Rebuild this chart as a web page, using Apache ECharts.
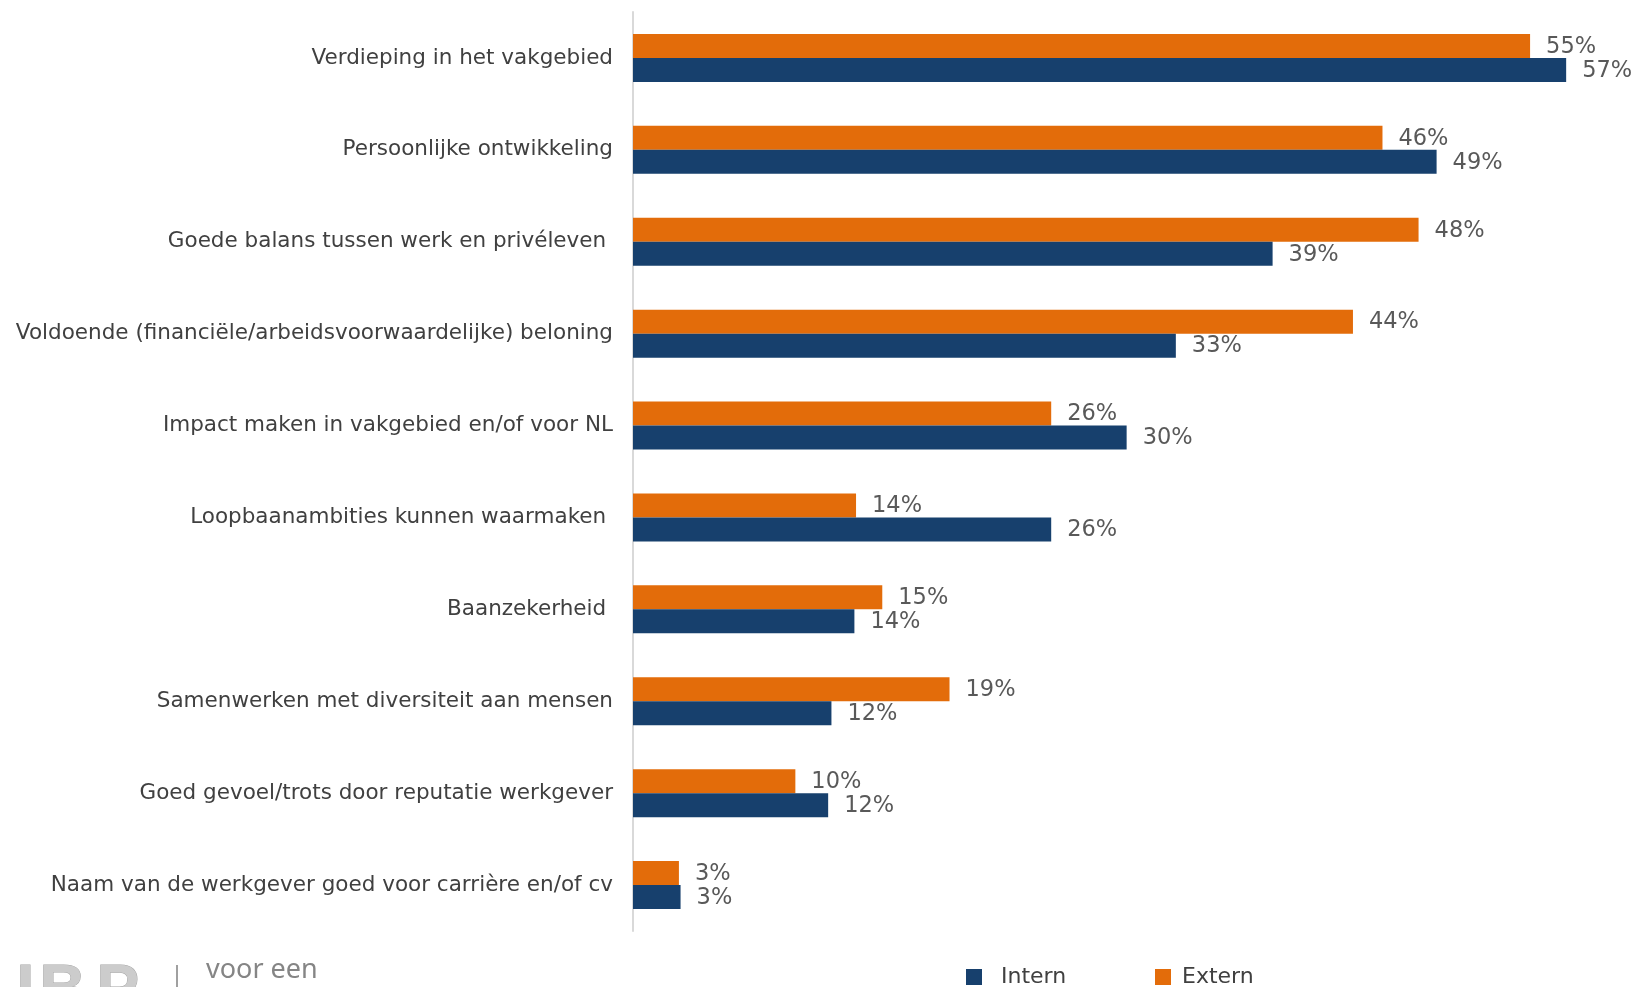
<!DOCTYPE html>
<html>
<head>
<meta charset="utf-8">
<script src="https://cdn.jsdelivr.net/npm/echarts@6/dist/echarts.min.js"></script>
<style>
html,body{margin:0;padding:0;background:#fff;}
#chart{width:1637px;height:987px;}
</style>
</head>
<body>
<div id="chart"></div>
<script>
const categories = [
  'Verdieping in het vakgebied',
  'Persoonlijke ontwikkeling',
  'Goede balans tussen werk en privéleven ',
  'Voldoende (financiële/arbeidsvoorwaardelijke) beloning',
  'Impact maken in vakgebied en/of voor NL',
  'Loopbaanambities kunnen waarmaken ',
  'Baanzekerheid ',
  'Samenwerken met diversiteit aan mensen',
  'Goed gevoel/trots door reputatie werkgever',
  'Naam van de werkgever goed voor carrière en/of cv'
];
const externValues = [54.7, 45.7, 47.9, 43.9, 25.5, 13.6, 15.2, 19.3, 9.9, 2.8];
const internValues = [56.9, 49.0, 39.0, 33.1, 30.1, 25.5, 13.5, 12.1, 11.9, 2.9];
const seriesNames = ['Extern', 'Intern'];

const FONT = '"DejaVu Sans"';
const chart = echarts.init(document.getElementById('chart'), null, {renderer: 'canvas'});
const labelCfg = {
  show: true,
  position: 'right',
  distance: 16,
  offset: [0, 1],
  color: '#595959',
  fontFamily: FONT,
  fontSize: 22.5,
  formatter: p => Math.round(p.value) + '%'
};
chart.setOption({
  animation: false,
  backgroundColor: '#ffffff',
  grid: {left: 633, top: 12, width: 984, height: 919, containLabel: false},
  xAxis: {type: 'value', min: 0, max: 60, show: false},
  yAxis: {
    type: 'category',
    data: categories,
    inverse: true,
    axisLine: {show: true, lineStyle: {color: '#d9d9d9', width: 2}},
    axisTick: {show: false},
    axisLabel: {color: '#404040', fontFamily: FONT, fontSize: 21.5, margin: 20}
  },
  legend: [
    {data: ['Intern'], left: 966, top: 966, padding: 0, itemWidth: 16, itemHeight: 16, icon: 'rect',
     textStyle: {color: '#404040', fontFamily: FONT, fontSize: 22, padding: [0,0,0,14]}},
    {data: ['Extern'], left: 1155, top: 966, padding: 0, itemWidth: 16, itemHeight: 16, icon: 'rect',
     textStyle: {color: '#404040', fontFamily: FONT, fontSize: 22, padding: [0,0,0,6]}}
  ],
  series: [
    {name: seriesNames[0], type: 'bar', data: externValues, barWidth: 24, barGap: '0%',
     itemStyle: {color: '#E36C0A'}, label: labelCfg},
    {name: seriesNames[1], type: 'bar', data: internValues, barWidth: 24, barGap: '0%',
     itemStyle: {color: '#17406D'}, label: labelCfg}
  ],
  graphic: [
    {type: 'text', left: 16, top: 960, style: {text: 'I', font: 'bold 64px "Liberation Sans"', fill: '#cccccc', stroke: '#a6a6a6', lineWidth: 1}},
    {type: 'text', left: 39, top: 960, style: {text: 'B', font: 'bold 64px "Liberation Sans"', fill: '#cccccc', stroke: '#a6a6a6', lineWidth: 1}},
    {type: 'text', left: 96, top: 960, style: {text: 'P', font: 'bold 64px "Liberation Sans"', fill: '#cccccc', stroke: '#a6a6a6', lineWidth: 1}},
    {type: 'line', shape: {x1: 177, y1: 965, x2: 177, y2: 987}, style: {stroke: '#a0a0a0', lineWidth: 2}},
    {type: 'text', left: 206, top: 957, style: {text: 'voor een', font: '27px "Noto Sans"', fill: '#858585'}}
  ]
});
</script>
</body>
</html>
